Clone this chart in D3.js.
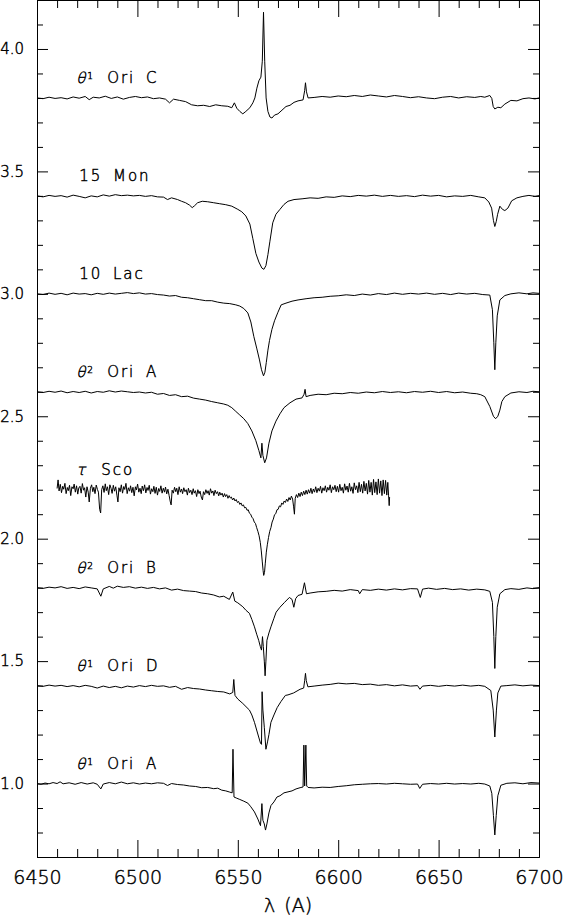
<!DOCTYPE html>
<html>
<head>
<meta charset="utf-8">
<script src="https://cdn.jsdelivr.net/npm/d3@7"></script>
<style>
  body { margin: 0; background: #fff; }
  svg { display: block; }
</style>
</head>
<body>
<script>
/* global d3 */

// star labels, top to bottom
const labelGreek = ['θ', '', '', 'θ', 'τ', 'θ', 'θ', 'θ']
const labelSup = ['1', '', '', '2', '', '2', '1', '1']
const labelText = ['Ori C', '15 Mon', '10 Lac', 'Ori A', 'Sco', 'Ori B', 'Ori D', 'Ori A']
// continuum level of each offset spectrum
const levels = [3.8, 3.4, 3.0, 2.6, 2.2, 1.8, 1.4, 1.0]

const xMajor = [6450, 6500, 6550, 6600, 6650, 6700]
const yMajor = [1.0, 1.5, 2.0, 2.5, 3.0, 3.5, 4.0]

// [wavelength, flux]
const ori1C = [
  [6450, 3.800], [6453, 3.797], [6456, 3.803], [6459, 3.798], [6462, 3.801], [6465, 3.796],
  [6468, 3.804], [6471, 3.799], [6474, 3.806], [6476, 3.793], [6478, 3.803], [6481, 3.800],
  [6484, 3.807], [6487, 3.798], [6490, 3.804], [6493, 3.795], [6496, 3.802], [6499, 3.806],
  [6502, 3.801], [6505, 3.804], [6508, 3.797], [6511, 3.800], [6514, 3.795], [6516, 3.780],
  [6518, 3.795], [6521, 3.790], [6524, 3.785], [6527, 3.772], [6530, 3.768], [6533, 3.770],
  [6536, 3.765], [6539, 3.772], [6542, 3.768], [6545, 3.766], [6547, 3.760], [6548.3, 3.780],
  [6549.5, 3.758], [6551, 3.745], [6552.5, 3.735], [6554, 3.745], [6556, 3.760], [6557.5, 3.780],
  [6558.5, 3.800], [6559.5, 3.840], [6560.5, 3.870], [6561.5, 3.885], [6562.2, 3.950],
  [6562.8, 4.150], [6563.4, 3.950], [6564.1, 3.800], [6565, 3.745], [6566, 3.722], [6567, 3.718],
  [6568.3, 3.730], [6570, 3.735], [6572, 3.750], [6574, 3.765], [6576, 3.770], [6578, 3.782],
  [6580, 3.788], [6582.5, 3.792], [6583.3, 3.830], [6583.7, 3.862], [6584.2, 3.825], [6585, 3.800],
  [6588, 3.802], [6592, 3.806], [6596, 3.803], [6600, 3.808], [6604, 3.805], [6608, 3.810],
  [6612, 3.806], [6616, 3.812], [6620, 3.808], [6624, 3.804], [6628, 3.810], [6632, 3.806],
  [6636, 3.801], [6640, 3.805], [6644, 3.800], [6648, 3.797], [6652, 3.803], [6656, 3.806],
  [6660, 3.800], [6664, 3.805], [6668, 3.802], [6671, 3.806], [6673, 3.803], [6675.5, 3.810],
  [6676.5, 3.798], [6677.2, 3.765], [6678, 3.755], [6679.5, 3.762], [6681, 3.760], [6683, 3.775],
  [6686, 3.790], [6689, 3.788], [6692, 3.797], [6695, 3.800], [6698, 3.796], [6700, 3.800]
]

const mon15 = [
  [6450, 3.400], [6453, 3.396], [6456, 3.402], [6459, 3.398], [6462, 3.401], [6465, 3.395],
  [6468, 3.403], [6471, 3.398], [6474, 3.392], [6477, 3.400], [6480, 3.396], [6483, 3.404],
  [6486, 3.399], [6489, 3.405], [6492, 3.401], [6495, 3.403], [6498, 3.400], [6501, 3.402],
  [6504, 3.398], [6507, 3.401], [6510, 3.396], [6513, 3.395], [6515, 3.385], [6517, 3.392],
  [6520, 3.385], [6522, 3.378], [6524, 3.372], [6526, 3.362], [6527.3, 3.352], [6528.5, 3.360],
  [6530, 3.372], [6532.3, 3.378], [6535, 3.376], [6538, 3.372], [6541, 3.368], [6544, 3.364],
  [6547, 3.358], [6550, 3.345], [6552, 3.335], [6554, 3.318], [6556, 3.285], [6557.5, 3.225],
  [6559, 3.165], [6560.5, 3.130], [6562, 3.105], [6563, 3.100], [6564, 3.115], [6565, 3.160],
  [6566, 3.215], [6567.4, 3.290], [6569, 3.325], [6571, 3.345], [6573, 3.365], [6575, 3.378],
  [6578, 3.385], [6582, 3.388], [6586, 3.392], [6590, 3.390], [6594, 3.396], [6598, 3.394],
  [6602, 3.400], [6606, 3.397], [6610, 3.402], [6614, 3.399], [6618, 3.403], [6622, 3.398],
  [6626, 3.402], [6630, 3.398], [6634, 3.401], [6638, 3.397], [6642, 3.403], [6646, 3.399],
  [6650, 3.402], [6654, 3.396], [6658, 3.400], [6662, 3.398], [6666, 3.402], [6670, 3.396],
  [6673, 3.392], [6675, 3.375], [6676.4, 3.350], [6677.3, 3.300], [6678, 3.275], [6678.7, 3.295],
  [6679.4, 3.325], [6680.5, 3.358], [6681.8, 3.345], [6683, 3.340], [6684.5, 3.350], [6686.4, 3.380],
  [6689, 3.392], [6692, 3.398], [6695, 3.402], [6698, 3.398], [6700, 3.401]
]

const lac10 = [
  [6450, 3.000], [6453, 2.997], [6456, 3.003], [6459, 2.998], [6462, 3.002], [6465, 2.996],
  [6468, 3.003], [6471, 2.999], [6474, 3.001], [6477, 2.996], [6480, 3.002], [6483, 2.998],
  [6486, 3.003], [6489, 2.999], [6492, 3.002], [6495, 3.005], [6498, 3.001], [6501, 3.004],
  [6504, 2.999], [6507, 3.001], [6510, 2.997], [6513, 2.995], [6516, 2.991], [6519, 2.993],
  [6522, 2.986], [6525, 2.984], [6528, 2.980], [6531, 2.976], [6534, 2.972], [6537, 2.972],
  [6540, 2.966], [6543, 2.962], [6546, 2.960], [6549, 2.955], [6551, 2.950], [6553, 2.940],
  [6555, 2.922], [6556.5, 2.885], [6558, 2.825], [6559.5, 2.775], [6560.8, 2.730], [6561.8, 2.690],
  [6562.8, 2.665], [6563.5, 2.680], [6564.2, 2.720], [6565, 2.770], [6565.8, 2.810], [6567, 2.855],
  [6568.3, 2.890], [6570, 2.925], [6571.6, 2.955], [6574, 2.962], [6577, 2.970], [6580, 2.975],
  [6584, 2.980], [6588, 2.984], [6592, 2.986], [6596, 2.990], [6600, 2.992], [6604, 2.996],
  [6608, 2.993], [6612, 2.999], [6616, 2.995], [6620, 3.001], [6624, 2.997], [6628, 3.003],
  [6632, 2.998], [6636, 3.002], [6640, 2.999], [6644, 3.003], [6648, 2.998], [6652, 3.002],
  [6656, 2.997], [6660, 3.003], [6664, 2.999], [6668, 3.002], [6672, 2.997], [6675.5, 2.995],
  [6676.8, 2.935], [6677.5, 2.800], [6678, 2.690], [6678.5, 2.800], [6679.2, 2.910], [6680.5, 2.975],
  [6683, 2.993], [6686, 3.000], [6690, 3.004], [6694, 3.000], [6697, 3.004], [6700, 3.002]
]

const ori2A = [
  [6450, 2.600], [6453, 2.597], [6456, 2.602], [6459, 2.598], [6462, 2.603], [6465, 2.596],
  [6468, 2.601], [6471, 2.597], [6474, 2.602], [6477, 2.595], [6480, 2.601], [6483, 2.598],
  [6486, 2.604], [6489, 2.599], [6492, 2.603], [6495, 2.600], [6498, 2.597], [6501, 2.599],
  [6504, 2.595], [6507, 2.598], [6510, 2.590], [6513, 2.593], [6516, 2.585], [6519, 2.588],
  [6522, 2.580], [6525, 2.582], [6528, 2.574], [6531, 2.570], [6534, 2.566], [6537, 2.560],
  [6540, 2.555], [6543, 2.550], [6545, 2.545], [6547, 2.535], [6549, 2.520], [6551, 2.505],
  [6553, 2.490], [6555, 2.470], [6557, 2.440], [6559, 2.400], [6560.5, 2.360], [6561.5, 2.330],
  [6562, 2.390], [6562.5, 2.340], [6563.4, 2.310], [6564.3, 2.330], [6565.5, 2.390], [6567, 2.440],
  [6569, 2.480], [6571, 2.510], [6573, 2.535], [6576, 2.555], [6579, 2.570], [6582, 2.575],
  [6583, 2.590], [6583.5, 2.610], [6584, 2.580], [6586, 2.585], [6590, 2.590], [6594, 2.588],
  [6598, 2.594], [6602, 2.592], [6606, 2.597], [6610, 2.594], [6614, 2.599], [6618, 2.596],
  [6622, 2.601], [6626, 2.597], [6630, 2.600], [6634, 2.596], [6638, 2.601], [6642, 2.598],
  [6646, 2.602], [6650, 2.597], [6654, 2.601], [6658, 2.596], [6662, 2.599], [6666, 2.594],
  [6669, 2.592], [6671, 2.588], [6673, 2.580], [6675.5, 2.540], [6677.3, 2.500], [6678.4, 2.490],
  [6679.5, 2.500], [6680.5, 2.525], [6681.5, 2.560], [6683, 2.580], [6686, 2.595], [6690, 2.600],
  [6694, 2.597], [6697, 2.602], [6700, 2.600]
]

const tauSco = [
  [6460.0, 2.205], [6460.5, 2.240], [6461.0, 2.195], [6461.6, 2.222], [6462.2, 2.188], [6462.8, 2.214],
  [6463.3, 2.202], [6463.9, 2.226], [6464.5, 2.184], [6465.1, 2.209], [6465.6, 2.196], [6466.2, 2.218],
  [6466.8, 2.176], [6467.4, 2.212], [6468.0, 2.204], [6468.5, 2.223], [6469.1, 2.190], [6469.7, 2.216],
  [6470.3, 2.182], [6470.8, 2.207], [6471.4, 2.214], [6472.0, 2.186], [6472.6, 2.225], [6473.2, 2.198],
  [6473.7, 2.208], [6474.3, 2.170], [6474.9, 2.212], [6475.5, 2.190], [6476.0, 2.150], [6476.6, 2.206],
  [6477.2, 2.220], [6477.8, 2.192], [6478.3, 2.210], [6478.9, 2.184], [6479.5, 2.219], [6480.1, 2.201],
  [6480.6, 2.190], [6481.2, 2.120], [6481.7, 2.105], [6482.2, 2.200], [6482.8, 2.216], [6483.4, 2.189],
  [6484.0, 2.224], [6484.5, 2.196], [6485.1, 2.212], [6485.7, 2.180], [6486.3, 2.220], [6486.9, 2.205],
  [6487.4, 2.185], [6488.0, 2.218], [6488.6, 2.194], [6489.2, 2.212], [6489.8, 2.178], [6490.3, 2.150],
  [6490.8, 2.208], [6491.4, 2.192], [6492.0, 2.220], [6492.6, 2.186], [6493.2, 2.213], [6493.7, 2.201],
  [6494.3, 2.226], [6494.9, 2.184], [6495.5, 2.208], [6496.1, 2.194], [6496.6, 2.216], [6497.2, 2.188],
  [6497.8, 2.210], [6498.4, 2.175], [6499.0, 2.212], [6499.5, 2.199], [6500.1, 2.223], [6500.7, 2.190],
  [6501.3, 2.206], [6501.9, 2.184], [6502.4, 2.215], [6503.0, 2.196], [6503.6, 2.220], [6504.2, 2.187],
  [6504.8, 2.209], [6505.3, 2.197], [6505.9, 2.218], [6506.5, 2.182], [6507.1, 2.204], [6507.7, 2.192],
  [6508.2, 2.214], [6508.8, 2.185], [6509.4, 2.210], [6510.0, 2.178], [6510.6, 2.205], [6511.1, 2.193],
  [6511.7, 2.216], [6512.3, 2.186], [6512.9, 2.206], [6513.5, 2.190], [6514.0, 2.211], [6514.6, 2.183],
  [6515.2, 2.202], [6515.8, 2.176], [6516.4, 2.150], [6516.8, 2.138], [6517.3, 2.198], [6517.9, 2.186],
  [6518.5, 2.210], [6519.1, 2.192], [6519.6, 2.206], [6520.2, 2.180], [6520.8, 2.212], [6521.4, 2.190],
  [6522.0, 2.203], [6522.5, 2.184], [6523.1, 2.208], [6523.7, 2.192], [6524.3, 2.200], [6524.9, 2.178],
  [6525.4, 2.206], [6526.0, 2.188], [6526.6, 2.198], [6527.2, 2.180], [6527.8, 2.204], [6528.3, 2.186],
  [6528.9, 2.196], [6529.5, 2.172], [6530.1, 2.200], [6530.7, 2.184], [6531.2, 2.194], [6531.8, 2.170],
  [6532.4, 2.158], [6532.9, 2.192], [6533.5, 2.180], [6534.1, 2.200], [6534.7, 2.185], [6535.2, 2.196],
  [6535.8, 2.178], [6536.4, 2.204], [6537.0, 2.186], [6537.6, 2.195], [6538.1, 2.176], [6538.7, 2.198],
  [6539.3, 2.184], [6539.9, 2.192], [6540.5, 2.175], [6541.0, 2.190], [6541.6, 2.178], [6542.2, 2.186],
  [6542.8, 2.170], [6543.4, 2.184], [6543.9, 2.172], [6544.5, 2.180], [6545.1, 2.165], [6545.7, 2.176],
  [6546.3, 2.166], [6546.8, 2.170], [6547.4, 2.158], [6548.0, 2.166], [6548.6, 2.154], [6549.2, 2.160],
  [6549.8, 2.148], [6550.4, 2.152], [6551.0, 2.140], [6551.6, 2.146], [6552.2, 2.134], [6552.8, 2.138],
  [6553.4, 2.126], [6554.0, 2.128], [6554.6, 2.116], [6555.2, 2.118], [6555.8, 2.104], [6556.4, 2.100],
  [6557.0, 2.088], [6557.6, 2.082], [6558.2, 2.068], [6558.8, 2.062], [6559.4, 2.045], [6560.0, 2.030],
  [6560.6, 2.012], [6561.2, 1.985], [6561.7, 1.950], [6562.2, 1.905], [6562.6, 1.870], [6562.9, 1.850],
  [6563.3, 1.862], [6563.7, 1.900], [6564.2, 1.945], [6564.7, 1.975], [6565.3, 2.005], [6565.9, 2.030],
  [6566.5, 2.045], [6567.1, 2.068], [6567.7, 2.080], [6568.3, 2.098], [6568.9, 2.102], [6569.5, 2.118],
  [6570.1, 2.120], [6570.7, 2.134], [6571.3, 2.130], [6571.9, 2.146], [6572.5, 2.140], [6573.1, 2.154],
  [6573.7, 2.148], [6574.3, 2.162], [6574.9, 2.152], [6575.5, 2.168], [6576.1, 2.158], [6576.7, 2.174],
  [6577.3, 2.162], [6577.8, 2.130], [6578.2, 2.100], [6578.6, 2.165], [6579.2, 2.180], [6579.8, 2.168],
  [6580.4, 2.186], [6581.0, 2.172], [6581.6, 2.190], [6582.2, 2.176], [6582.8, 2.194], [6583.4, 2.180],
  [6584.0, 2.198], [6584.6, 2.182], [6585.2, 2.200], [6585.8, 2.186], [6586.4, 2.206], [6587.0, 2.184],
  [6587.6, 2.203], [6588.2, 2.190], [6588.8, 2.212], [6589.4, 2.188], [6590.0, 2.206], [6590.6, 2.194],
  [6591.2, 2.214], [6591.8, 2.186], [6592.4, 2.208], [6593.0, 2.196], [6593.6, 2.216], [6594.2, 2.190],
  [6594.8, 2.210], [6595.4, 2.198], [6596.0, 2.220], [6596.6, 2.188], [6597.2, 2.212], [6597.8, 2.200],
  [6598.4, 2.218], [6599.0, 2.192], [6599.6, 2.214], [6600.2, 2.190], [6600.8, 2.222], [6601.4, 2.196],
  [6602.0, 2.210], [6602.6, 2.186], [6603.2, 2.224], [6603.8, 2.198], [6604.4, 2.215], [6605.0, 2.190],
  [6605.6, 2.226], [6606.2, 2.194], [6606.8, 2.212], [6607.4, 2.185], [6608.0, 2.228], [6608.6, 2.200],
  [6609.2, 2.216], [6609.8, 2.188], [6610.4, 2.230], [6611.0, 2.192], [6611.6, 2.222], [6612.2, 2.186],
  [6612.8, 2.234], [6613.4, 2.195], [6614.0, 2.226], [6614.6, 2.182], [6615.2, 2.238], [6615.8, 2.190],
  [6616.4, 2.230], [6617.0, 2.178], [6617.6, 2.242], [6618.2, 2.188], [6618.8, 2.232], [6619.4, 2.180],
  [6620.0, 2.244], [6620.6, 2.186], [6621.2, 2.236], [6621.8, 2.176], [6622.4, 2.240], [6623.0, 2.184],
  [6623.6, 2.238], [6624.2, 2.178], [6624.7, 2.230], [6625.1, 2.175], [6625.4, 2.135], [6625.6, 2.170]
]

const ori2B = [
  [6450, 1.800], [6453, 1.797], [6456, 1.802], [6459, 1.799], [6462, 1.804], [6465, 1.797],
  [6468, 1.801], [6471, 1.796], [6474, 1.803], [6477, 1.799], [6480, 1.795], [6481.8, 1.765],
  [6483, 1.795], [6486, 1.805], [6488, 1.798], [6490, 1.806], [6493, 1.801], [6496, 1.804],
  [6499, 1.798], [6502, 1.802], [6505, 1.797], [6508, 1.801], [6511, 1.795], [6514, 1.799],
  [6517, 1.790], [6520, 1.794], [6523, 1.788], [6526, 1.786], [6529, 1.784], [6532, 1.778],
  [6535, 1.775], [6538, 1.770], [6540.8, 1.762], [6543, 1.765], [6545.8, 1.752], [6547.5, 1.782],
  [6548.5, 1.745], [6550, 1.738], [6552.5, 1.722], [6554, 1.708], [6555.8, 1.695], [6557, 1.670],
  [6558.3, 1.640], [6559.4, 1.610], [6560.4, 1.585], [6561.2, 1.560], [6561.8, 1.545], [6562.3, 1.600],
  [6562.7, 1.560], [6563.2, 1.500], [6563.6, 1.440], [6564.0, 1.500], [6564.5, 1.585], [6565.5, 1.615],
  [6566.5, 1.640], [6568, 1.675], [6569.1, 1.700], [6571, 1.720], [6573.3, 1.740], [6575.7, 1.760],
  [6577, 1.752], [6577.9, 1.720], [6578.8, 1.755], [6580, 1.768], [6582, 1.773], [6583.2, 1.820],
  [6584.2, 1.775], [6586, 1.778], [6590, 1.783], [6594, 1.785], [6598, 1.789], [6602, 1.786],
  [6606, 1.792], [6610, 1.788], [6610.7, 1.775], [6612, 1.792], [6616, 1.789], [6620, 1.794],
  [6624, 1.790], [6628, 1.795], [6632, 1.791], [6636, 1.796], [6639.5, 1.795], [6640.9, 1.760],
  [6642, 1.794], [6645, 1.798], [6649, 1.793], [6653, 1.797], [6657, 1.792], [6661, 1.795],
  [6665, 1.790], [6669, 1.794], [6673, 1.791], [6675.5, 1.785], [6676.8, 1.740], [6677.5, 1.600],
  [6678, 1.470], [6678.5, 1.600], [6679.2, 1.720], [6680.5, 1.775], [6683, 1.792], [6686, 1.796],
  [6690, 1.793], [6694, 1.799], [6697, 1.796], [6700, 1.800]
]

const ori1D = [
  [6450, 1.400], [6453, 1.397], [6456, 1.402], [6459, 1.398], [6462, 1.401], [6465, 1.396],
  [6468, 1.400], [6471, 1.395], [6474, 1.401], [6477, 1.397], [6480, 1.390], [6483, 1.398],
  [6486, 1.392], [6489, 1.397], [6492, 1.391], [6495, 1.398], [6498, 1.394], [6501, 1.400],
  [6504, 1.396], [6507, 1.401], [6510, 1.397], [6513, 1.399], [6516, 1.393], [6519, 1.397],
  [6522, 1.385], [6525, 1.392], [6528, 1.388], [6531, 1.386], [6534, 1.382], [6537, 1.379],
  [6540, 1.376], [6543, 1.374], [6546, 1.366], [6547.5, 1.372], [6548, 1.425], [6548.6, 1.360],
  [6550, 1.345], [6552.5, 1.327], [6555.8, 1.300], [6557, 1.280], [6558.3, 1.250], [6560.4, 1.190],
  [6561.3, 1.165], [6561.8, 1.160], [6562.1, 1.375], [6562.5, 1.300], [6563.2, 1.230], [6564.0, 1.140],
  [6564.8, 1.170], [6565.5, 1.200], [6566.5, 1.250], [6568, 1.280], [6569.6, 1.310], [6571.5, 1.335],
  [6573.7, 1.360], [6575, 1.362], [6577.8, 1.370], [6581, 1.385], [6582.8, 1.390], [6583.3, 1.420],
  [6583.7, 1.450], [6584.1, 1.420], [6584.9, 1.395], [6588, 1.398], [6592, 1.402], [6596, 1.405],
  [6600, 1.410], [6604, 1.407], [6608, 1.409], [6612, 1.404], [6616, 1.406], [6620, 1.401],
  [6624, 1.404], [6628, 1.399], [6632, 1.403], [6636, 1.398], [6639.5, 1.400], [6640.7, 1.385],
  [6642, 1.398], [6646, 1.401], [6650, 1.397], [6654, 1.401], [6658, 1.398], [6662, 1.402],
  [6666, 1.398], [6670, 1.401], [6673, 1.397], [6676, 1.380], [6677.2, 1.300], [6678, 1.190],
  [6678.8, 1.300], [6679.5, 1.370], [6681, 1.398], [6684, 1.400], [6688, 1.403], [6692, 1.399],
  [6696, 1.402], [6700, 1.400]
]

const ori1A = [
  [6450, 1.000], [6452, 0.997], [6454, 1.002], [6456, 0.999], [6458, 1.004], [6460, 1.000],
  [6461.5, 1.007], [6463, 0.999], [6466, 1.003], [6469, 0.997], [6472, 1.004], [6475, 0.998],
  [6478, 1.003], [6480, 0.997], [6481.8, 0.978], [6483, 0.998], [6486, 1.004], [6489, 0.999],
  [6492, 1.006], [6495, 0.999], [6498, 1.003], [6501, 0.998], [6504, 1.002], [6507, 0.999],
  [6510, 1.003], [6513, 1.001], [6515, 0.992], [6517, 1.000], [6520, 0.996], [6523, 0.994],
  [6526, 0.990], [6529, 0.988], [6532, 0.983], [6535, 0.984], [6538, 0.979], [6540, 0.981],
  [6542, 0.973], [6544, 0.970], [6546, 0.965], [6547.2, 0.962], [6547.6, 1.140], [6548.1, 0.945],
  [6549.5, 0.940], [6551, 0.935], [6553, 0.928], [6555, 0.920], [6556.5, 0.905], [6558.3, 0.884],
  [6560, 0.855], [6561.3, 0.828], [6562.0, 0.918], [6562.5, 0.850], [6563.2, 0.835], [6563.8, 0.810],
  [6564.5, 0.835], [6565.5, 0.880], [6566.5, 0.910], [6568, 0.925], [6569.5, 0.945], [6571, 0.950],
  [6573, 0.962], [6575, 0.966], [6577, 0.970], [6579, 0.978], [6581, 0.983], [6582.5, 0.986],
  [6582.9, 1.157], [6583.3, 0.990], [6583.9, 1.157], [6584.3, 0.990], [6585, 0.984], [6588, 0.982],
  [6592, 0.985], [6596, 0.984], [6600, 0.988], [6604, 0.991], [6608, 0.995], [6612, 0.997],
  [6616, 0.999], [6620, 1.000], [6624, 0.998], [6628, 1.001], [6632, 0.999], [6636, 0.997],
  [6639.5, 0.998], [6640.6, 0.980], [6642, 0.997], [6646, 1.000], [6650, 0.998], [6654, 1.001],
  [6658, 0.998], [6662, 1.000], [6666, 0.998], [6670, 1.001], [6673, 0.998], [6675.5, 0.990],
  [6676.5, 0.960], [6677.3, 0.870], [6678, 0.790], [6678.7, 0.870], [6679.5, 0.950], [6681, 0.993],
  [6684, 1.001], [6688, 1.003], [6692, 0.999], [6696, 1.004], [6700, 1.002]
]

const spectra = [ori1C, mon15, lac10, ori2A, tauSco, ori2B, ori1D, ori1A]

const W = 563, H = 917
const plotLeft = 37, plotRight = 539, plotTop = 0, plotBottom = 857
const font = "'DejaVu Sans', 'Liberation Sans', sans-serif"

const svg = d3.select('body').append('svg')
  .attr('width', W)
  .attr('height', H)

const x = d3.scaleLinear().domain([6450, 6700]).range([plotLeft, plotRight])
const y = d3.scaleLinear().domain([0.7, 4.2]).range([plotBottom, plotTop])

const xMinor = x.ticks(25).filter(d => !xMajor.includes(d))
const yMinor = y.ticks(35).filter(d => !yMajor.some(m => Math.abs(m - d) < 1e-6))

// thin light face plus a hairline stroke, close to the plotter's stroke font
function hershey (sel) {
  sel.attr('font-family', font)
    .attr('font-weight', 200)
    .attr('fill', '#000')
    .attr('stroke', '#000')
    .attr('stroke-width', 0.45)
}

function styleAxis (g, size) {
  g.attr('font-size', size)
  g.selectAll('.tick line').attr('stroke', '#000')
  g.select('.domain').attr('stroke', '#000')
  g.selectAll('text').call(hershey)
}

// bottom
svg.append('g').attr('transform', `translate(0,${plotBottom})`)
  .call(d3.axisBottom(x).tickValues(xMajor).tickSize(-17).tickSizeOuter(0)
    .tickPadding(14).tickFormat(d3.format('d')))
  .call(g => styleAxis(g, 19))
svg.append('g').attr('transform', `translate(0,${plotBottom})`)
  .call(d3.axisBottom(x).tickValues(xMinor).tickSize(-8).tickSizeOuter(0).tickFormat(''))
  .call(g => styleAxis(g, 19))

// top
svg.append('g').attr('transform', `translate(0,${plotTop})`)
  .call(d3.axisTop(x).tickValues(xMajor).tickSize(-17).tickSizeOuter(0).tickFormat(''))
  .call(g => styleAxis(g, 19))
svg.append('g').attr('transform', `translate(0,${plotTop})`)
  .call(d3.axisTop(x).tickValues(xMinor).tickSize(-8).tickSizeOuter(0).tickFormat(''))
  .call(g => styleAxis(g, 19))

// left
svg.append('g').attr('transform', `translate(${plotLeft},0)`)
  .call(d3.axisLeft(y).tickValues(yMajor).tickSize(-11).tickSizeOuter(0)
    .tickPadding(13).tickFormat(d3.format('.1f')))
  .call(g => styleAxis(g, 15))
svg.append('g').attr('transform', `translate(${plotLeft},0)`)
  .call(d3.axisLeft(y).tickValues(yMinor).tickSize(-6).tickSizeOuter(0).tickFormat(''))
  .call(g => styleAxis(g, 15))

// right
svg.append('g').attr('transform', `translate(${plotRight},0)`)
  .call(d3.axisRight(y).tickValues(yMajor).tickSize(-11).tickSizeOuter(0).tickFormat(''))
  .call(g => styleAxis(g, 18))
svg.append('g').attr('transform', `translate(${plotRight},0)`)
  .call(d3.axisRight(y).tickValues(yMinor).tickSize(-6).tickSizeOuter(0).tickFormat(''))
  .call(g => styleAxis(g, 18))

// spectra
const line = d3.line()
  .x(d => x(d[0]))
  .y(d => y(d[1]))

svg.append('g')
  .selectAll('path')
  .data(spectra)
  .enter()
    .append('path')
    .attr('d', line)
    .attr('fill', 'none')
    .attr('stroke', '#000')
    .attr('stroke-width', 1)
    .attr('stroke-linejoin', 'round')

// star names sit a little above each continuum
const lx = x(6469.5)
const labels = svg.append('g')

levels.forEach((lev, i) => {
  const by = y(lev + 0.06)
  if (labelGreek[i]) {
    labels.append('text')
      .attr('transform', `translate(${lx},${by}) skewX(-14)`)
      .attr('font-size', 15)
      .text(labelGreek[i])
      .call(hershey)
    if (labelSup[i]) {
      labels.append('text')
        .attr('x', lx + 11)
        .attr('y', by - 4)
        .attr('font-size', 9)
        .text(labelSup[i])
        .call(hershey)
    }
  }
  labels.append('text')
    .attr('x', labelGreek[i] ? lx + (labelSup[i] ? 31 : 25) : lx + 3)
    .attr('y', by)
    .attr('font-size', 15)
    .attr('letter-spacing', 2)
    .attr('word-spacing', 4)
    .text(labelText[i])
    .call(hershey)
})

// x title
svg.append('text')
  .attr('x', (plotLeft + plotRight) / 2)
  .attr('y', 912)
  .attr('text-anchor', 'middle')
  .attr('font-size', 19)
  .attr('word-spacing', 3)
  .text('λ (A)')
  .call(hershey)
</script>
</body>
</html>
